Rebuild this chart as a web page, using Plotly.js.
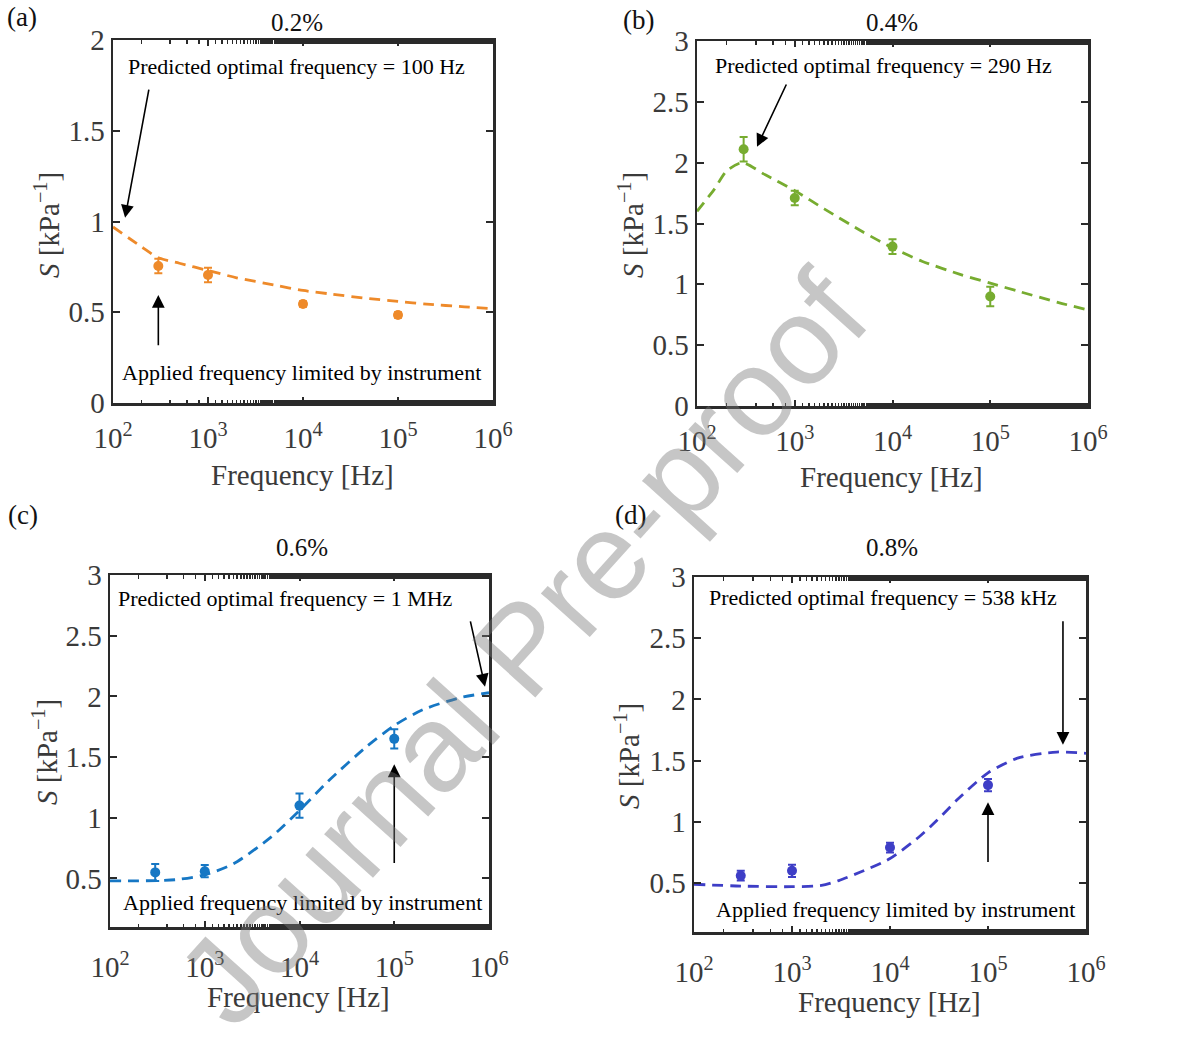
<!DOCTYPE html>
<html>
<head>
<meta charset="utf-8">
<script src="https://cdn.plot.ly/plotly-3.0.1.min.js"></script>
<style>html,body{margin:0;padding:0;background:#fff;}#chart{width:1178px;height:1039px;}</style>
</head>
<body>
<div id="chart"></div>
<script>
// ---- data ----
const freq = [300, 1000, 10000, 100000];

const S_a = [0.755, 0.705, 0.545, 0.485];
const err_a = [0.04, 0.04, 0.015, 0.015];
const S_b = [2.11, 1.71, 1.31, 0.90];
const err_b = [0.10, 0.06, 0.06, 0.08];
const S_c = [0.55, 0.56, 1.10, 1.65];
const err_c = [0.07, 0.05, 0.10, 0.08];
const S_d = [0.56, 0.60, 0.79, 1.30];
const err_d = [0.04, 0.05, 0.04, 0.05];

const fitFreq_a = [100, 200, 300, 500, 1e3, 2e3, 5e3, 1e4, 2e4, 5e4, 1e5, 2e5, 5e5, 1e6];
const fit_a     = [0.97, 0.86, 0.80, 0.77, 0.73, 0.69, 0.65, 0.62, 0.60, 0.575, 0.56, 0.545, 0.53, 0.52];
const fitFreq_b = [100, 150, 200, 290, 500, 1e3, 2e3, 5e3, 1e4, 2e4, 5e4, 1e5, 2e5, 5e5, 1e6];
const fit_b     = [1.60, 1.78, 1.93, 2.00, 1.90, 1.77, 1.62, 1.43, 1.30, 1.19, 1.08, 1.01, 0.94, 0.85, 0.79];
const fitFreq_c = [100, 200, 500, 1e3, 2e3, 5e3, 1e4, 2e4, 5e4, 1e5, 2e5, 5e5, 1e6];
const fit_c     = [0.48, 0.48, 0.49, 0.53, 0.62, 0.84, 1.06, 1.30, 1.58, 1.76, 1.89, 1.99, 2.03];
const fitFreq_d = [100, 300, 1e3, 2e3, 3e3, 5e3, 1e4, 2e4, 3e4, 5e4, 1e5, 2e5, 5e5, 1e6];
const fit_d     = [0.49, 0.475, 0.47, 0.48, 0.52, 0.59, 0.70, 0.88, 1.01, 1.19, 1.40, 1.52, 1.57, 1.56];

const panelTitles = ['0.2%', '0.4%', '0.6%', '0.8%'];
const panelLabels = ['(a)', '(b)', '(c)', '(d)'];
const optimalText = ['Predicted optimal frequency = 100 Hz', 'Predicted optimal frequency = 290 Hz',
                     'Predicted optimal frequency = 1 MHz', 'Predicted optimal frequency = 538 kHz'];
const limitText = 'Applied frequency limited by instrument';
const xTitle = 'Frequency [Hz]';
const yTitle = '<i>S</i> [kPa<sup>\u22121</sup>]';

const xTickVals = [1e2, 1e3, 1e4, 1e5, 1e6];
const xTickText = ['10<sup>2</sup>', '10<sup>3</sup>', '10<sup>4</sup>', '10<sup>5</sup>', '10<sup>6</sup>'];
const yTickVals_a = [0, 0.5, 1, 1.5, 2];
const yTickVals_b = [0, 0.5, 1, 1.5, 2, 2.5, 3];
const yTickVals_cd = [0.5, 1, 1.5, 2, 2.5, 3];

// arrows: [headFreq, headS, tailFreq, tailS]
const arrowsOpt = [
  [134, 1.02, 240, 1.735],
  [411, 2.13, 834, 2.655],
  [908000, 2.08, 631000, 2.63],
  [582000, 1.63, 582000, 2.65]
];
const arrowsLim = [
  [300, 0.595, 300, 0.31],
  null,
  [100000, 1.44, 100000, 0.615],
  [100000, 1.16, 100000, 0.66]
];

const colors = ['#EE8A2A', '#77AC30', '#1677C4', '#3E3EC6'];

// ---- layout geometry ----
const W = 1178, H = 1039;
const boxes = [ // [left, right, top, bottom] in px
  [113, 493, 40, 403],
  [697, 1088, 41, 406],
  [110, 489, 575, 927],
  [694, 1086, 577, 932]
];
const yRanges = [[0, 2], [0, 3], [0.1, 3], [0.1, 3]];
const yTicks = [yTickVals_a, yTickVals_b, yTickVals_cd, yTickVals_cd];
const Ss = [S_a, S_b, S_c, S_d];
const errs = [err_a, err_b, err_c, err_d];
const fitF = [fitFreq_a, fitFreq_b, fitFreq_c, fitFreq_d];
const fitS = [fit_a, fit_b, fit_c, fit_d];

const serif = '"Liberation Serif"';
const traces = [];
const layout = {
  width: W, height: H,
  margin: {l: 0, r: 0, t: 0, b: 0},
  paper_bgcolor: '#fff', plot_bgcolor: '#fff',
  showlegend: false,
  font: {family: serif, color: '#333'},
  annotations: []
};

const titlePos = [[297, 22], [892, 22], [302, 547], [892, 547]];
const labelPos = [[22, 17], [638, 20], [23, 515], [630, 515]];
const xTitlePos = [[302, 475], [891, 477], [298, 997], [889, 1002]];
const yTitlePos = [[47, 225], [631, 225], [45, 752], [627, 756]];
const optPos = [[0.484, 0.926], [0.478, 0.934], [0.462, 0.932], [0.482, 0.941]];
const limPos = [[0.497, 0.083], null, [0.507, 0.071], [0.515, 0.062]];

function paperAnn(text, px, py, size, color, angle) {
  return {text: text, xref: 'paper', yref: 'paper', x: px / W, y: 1 - py / H,
    showarrow: false, xanchor: 'center', yanchor: 'middle', textangle: angle || 0,
    font: {family: serif, size: size, color: color}};
}

for (let i = 0; i < 4; i++) {
  const sfx = i === 0 ? '' : String(i + 1);
  const xa = 'x' + sfx, ya = 'y' + sfx;
  const [l, r, t, b] = boxes[i];
  traces.push({
    x: fitF[i], y: fitS[i], xaxis: xa, yaxis: ya, type: 'scatter', mode: 'lines',
    line: {color: colors[i], width: 2.8, dash: '11px,7px', shape: 'spline', smoothing: 0.7},
    hoverinfo: 'skip'
  });
  traces.push({
    x: freq, y: Ss[i], xaxis: xa, yaxis: ya, type: 'scatter', mode: 'markers',
    marker: {color: colors[i], size: 10},
    error_y: {type: 'data', array: errs[i], visible: true, color: colors[i], thickness: 2, width: 4}
  });
  const axCommon = {
    showline: true, linecolor: '#2a2a2a', linewidth: 2.5, mirror: 'ticks',
    ticks: 'inside', tickcolor: '#2a2a2a', tickwidth: 2, showgrid: false, zeroline: false,
    tickfont: {family: serif, size: 29, color: '#3a3a3a'}
  };
  layout['xaxis' + sfx] = Object.assign({}, axCommon, {
    type: 'log', range: [2, 6], anchor: ya,
    domain: [l / W, r / W],
    tickvals: xTickVals, ticktext: xTickText, ticklen: 6,
    minor: {ticks: 'inside', ticklen: 3.5, tickwidth: 1.5, tickcolor: '#2a2a2a', showgrid: false},
    ticklabelstandoff: i >= 2 ? 13 : 8
  });
  layout['yaxis' + sfx] = Object.assign({}, axCommon, {
    range: yRanges[i], anchor: xa,
    domain: [1 - b / H, 1 - t / H],
    tickvals: yTicks[i], ticktext: yTicks[i].map(v => String(v)), ticklen: 7,
    ticklabelstandoff: 0
  });
  layout.annotations.push(paperAnn(panelTitles[i], titlePos[i][0], titlePos[i][1], 25, '#111'));
  layout.annotations.push(paperAnn(panelLabels[i], labelPos[i][0], labelPos[i][1], 27, '#111'));
  layout.annotations.push(paperAnn(xTitle, xTitlePos[i][0], xTitlePos[i][1], 29, '#3a3a3a'));
  layout.annotations.push(paperAnn(yTitle, yTitlePos[i][0], yTitlePos[i][1], 29, '#3a3a3a', -90));
  layout.annotations.push({text: optimalText[i], xref: xa + ' domain', yref: ya + ' domain',
    x: optPos[i][0], y: optPos[i][1], showarrow: false, xanchor: 'center', yanchor: 'middle',
    font: {family: serif, size: 22, color: '#000'}});
  if (limPos[i]) {
    layout.annotations.push({text: limitText, xref: xa + ' domain', yref: ya + ' domain',
      x: limPos[i][0], y: limPos[i][1], showarrow: false, xanchor: 'center', yanchor: 'middle',
      font: {family: serif, size: 22, color: '#000'}});
  }
  const arrs = [arrowsOpt[i], arrowsLim[i]];
  arrs.forEach(a => {
    if (!a) return;
    layout.annotations.push({text: '', xref: xa, yref: ya, axref: xa, ayref: ya,
      x: Math.log10(a[0]), y: a[1], ax: Math.log10(a[2]), ay: a[3],
      showarrow: true, arrowhead: 2, arrowsize: 1.6, arrowwidth: 1.6, arrowcolor: '#000'});
  });
}

// watermark
layout.annotations.push({text: 'Journal Pre-proof', xref: 'paper', yref: 'paper',
  x: 522 / W, y: 1 - 648 / H, showarrow: false, xanchor: 'center', yanchor: 'middle',
  textangle: -48, font: {family: '"Liberation Sans"', size: 124, color: 'rgba(120,120,120,0.42)'}});

Plotly.newPlot('chart', traces, layout, {staticPlot: true, displayModeBar: false});
</script>
</body>
</html>
